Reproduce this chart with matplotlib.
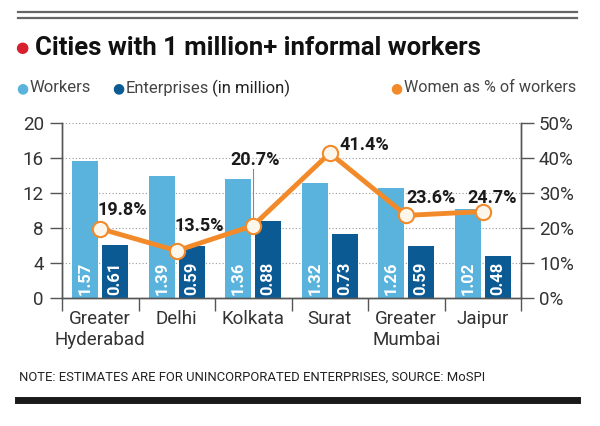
import matplotlib
matplotlib.use("Agg")
import matplotlib.pyplot as plt
from matplotlib import font_manager
import numpy as np

# data
cities = ["Greater\nHyderabad", "Delhi", "Kolkata", "Surat", "Greater\nMumbai", "Jaipur"]
workers = [1.57, 1.39, 1.36, 1.32, 1.26, 1.02]        # million
enterprises = [0.61, 0.59, 0.88, 0.73, 0.59, 0.48]    # million
women_pct = [19.8, 13.5, 20.7, 41.4, 23.6, 24.7]      # % of workers
left_ticks = [0, 4, 8, 12, 16, 20]
right_ticks = [0, 10, 20, 30, 40, 50]

light_blue = "#5ab3dc"
dark_blue = "#0b5a94"
orange = "#f28a2a"
red = "#d81f2e"

names = {f.name for f in font_manager.fontManager.ttflist}
narrow = "Liberation Sans Narrow" if "Liberation Sans Narrow" in names else "Roboto"
plt.rcParams["font.family"] = [narrow, "DejaVu Sans"]

fig = plt.figure(figsize=(6, 4.26), dpi=100)
ax = fig.add_axes([62 / 600, 128 / 426, 459 / 600, 175 / 426])
ax2 = ax.twinx()

x = np.arange(len(cities))
w = 0.34
off = 0.196
ax.set_zorder(1)
ax2.set_zorder(2)
ax.patch.set_visible(False)

for v in left_ticks[1:]:
    ax.axhline(v, color="#9a9a9a", lw=0.8, ls=(0, (1, 2)), zorder=0)

ax.bar(x - off, np.array(workers) * 10, w, color=light_blue, zorder=2)
ax.bar(x + off, np.array(enterprises) * 10, w, color=dark_blue, zorder=2)
for i in range(len(cities)):
    ax.text(x[i] - off, 0.35, f"{workers[i]:.2f}", rotation=90, ha="center", va="bottom",
            color="white", fontsize=12, fontweight="bold", zorder=3)
    ax.text(x[i] + off, 0.35, f"{enterprises[i]:.2f}", rotation=90, ha="center", va="bottom",
            color="white", fontsize=12, fontweight="bold", zorder=3)

ax.set_xlim(-0.5, len(cities) - 0.5)
ax.set_ylim(0, 20)
ax2.set_ylim(0, 50)
ax.set_yticks(left_ticks)
ax2.set_yticks(right_ticks)
ax2.set_yticklabels([f"{t}%" for t in right_ticks])
ax.set_xticks(x)
ax.set_xticklabels(cities, fontsize=13.5, color="#333333", linespacing=1.15)
ax.set_xticks(np.arange(-0.5, len(cities)), minor=True)
ax.tick_params(axis="x", which="major", length=0, pad=9)
ax.tick_params(axis="x", which="minor", length=9, width=1, color="#555555", direction="out")
ax.tick_params(axis="y", length=9, width=1, color="#555555", labelsize=13.5, labelcolor="#333333", pad=4)
ax2.tick_params(axis="y", length=9, width=1, color="#555555", labelsize=13.5, labelcolor="#333333", pad=4)

for a in (ax, ax2):
    a.spines["top"].set_visible(False)
    for s in ("left", "right", "bottom"):
        a.spines[s].set_color("#555555")
        a.spines[s].set_linewidth(1)

# women line
ax2.plot(x, women_pct, color=orange, lw=3.5, zorder=4, solid_capstyle="round")
ax2.plot(x, women_pct, ls="none", marker="o", ms=11, mfc="#fdf6ea", mec=orange, mew=1.5, zorder=5)
label_off = [(0.29, 5.3), (0.29, 7.1), (0.03, 18.8), (0.45, 2.3), (0.33, 5.0), (0.12, 3.9)]
for i, p in enumerate(women_pct):
    dx, dy = label_off[i]
    ax2.text(x[i] + dx, p + dy, f"{p}%", ha="center", va="center", fontsize=13,
             fontweight="bold", color="#1a1a1a", zorder=6)
ax2.plot([x[2], x[2]], [women_pct[2] + 1.8, women_pct[2] + 16.3],
         color="#888888", lw=0.8, zorder=3)

# header / footer decoration
fig.add_artist(plt.Line2D([18 / 600, 577 / 600], [1 - 12 / 426] * 2, color="#666666", lw=1.6))
fig.add_artist(plt.Line2D([18 / 600, 577 / 600], [1 - 18 / 426] * 2, color="#666666", lw=1.6))
fig.add_artist(plt.Line2D([18 / 600, 577 / 600], [1 - 399.5 / 426] * 2, color="#1a1a1a", lw=5))

fig.text(22 / 600, 1 - 48 / 426, "\u25CF", color=red, fontsize=11, ha="center", va="center",
         family="DejaVu Sans")
fig.text(35 / 600, 1 - 48 / 426, "Cities with 1 million+ informal workers", fontsize=18.5,
         fontweight="bold", color="#111111", ha="left", va="center")

renderer = fig.canvas.get_renderer()


def legend_item(xpx, color, parts, size=12):
    fig.text(xpx / 600, 1 - 88 / 426, "\u25CF", color=color, fontsize=10, ha="center",
             va="center", family="DejaVu Sans")
    pos = xpx + 8
    for txt, col in parts:
        t = fig.text(pos / 600, 1 - 88 / 426, txt, fontsize=size, color=col, ha="left", va="center")
        pos = t.get_window_extent(renderer).x1 + 3


legend_item(22, light_blue, [("Workers", "#444444")])
legend_item(118, dark_blue, [("Enterprises", "#444444"), ("(in million)", "#222222")])
legend_item(396, orange, [("Women as % of workers", "#444444")], size=11.6)

fig.text(19 / 600, 1 - 377 / 426, "NOTE: ESTIMATES ARE FOR UNINCORPORATED ENTERPRISES, SOURCE: MoSPI",
         fontsize=9.4, color="#222222", ha="left", va="center")

fig.savefig("out.png", dpi=100)
